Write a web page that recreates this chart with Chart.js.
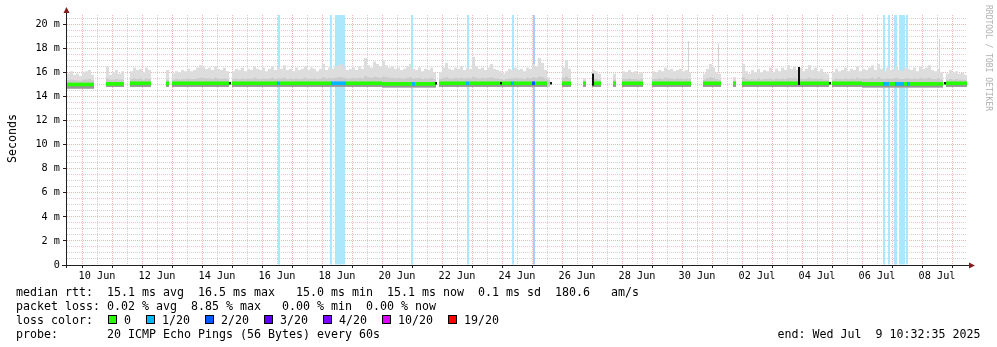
<!DOCTYPE html>
<html>
<head>
<meta charset="utf-8">
<script src="https://cdn.jsdelivr.net/npm/chart.js@4.4.1/dist/chart.umd.min.js"></script>
<style>
  body { margin: 0; background: #fff; }
  #wrap { position: relative; width: 997px; height: 347px; overflow: hidden; font-family: "DejaVu Sans Mono", monospace; }
  #chart { position: absolute; left: 0; top: 0; }
  .row { position: absolute; left: 16px; font-size: 11.63px; line-height: 14px; white-space: pre; color: #000; }
  .box { display: inline-block; width: 7px; height: 7px; border: 1px solid #000; margin: 0 7px 0 1px; vertical-align: top; position: relative; top: 2.5px; }
  #ylab { position: absolute; left: 0; top: 0; font-size: 11.63px; line-height: 14px; white-space: pre; transform-origin: 0 0; transform: translate(5px, 163px) rotate(-90deg); }
  #wm { position: absolute; left: 0; top: 0; font-size: 8px; line-height: 10px; white-space: pre; color: #b0b0b0; transform-origin: 0 0; transform: translate(993px, 5px) rotate(90deg); }
</style>
</head>
<body>
<div id="wrap">
  <canvas id="chart" width="997" height="347"></canvas>
  <div id="ylab">Seconds</div>
  <div id="wm">RRDTOOL / TOBI OETIKER</div>
  <div class="row" style="top:284.5px">median rtt:  15.1 ms avg  16.5 ms max   15.0 ms min  15.1 ms now  0.1 ms sd  180.6   am/s</div>
  <div class="row" style="top:298.5px">packet loss: 0.02 % avg  8.85 % max   0.00 % min  0.00 % now</div>
  <div class="row" id="lossrow" style="top:312.5px">loss color:  </div>
  <div class="row" style="top:326.5px">probe:       20 ICMP Echo Pings (56 Bytes) every 60s</div>
  <div class="row" style="top:326.5px; left:777.5px">end: Wed Jul  9 10:32:35 2025</div>
</div>
<script>
// time axis in days since 1 Jun 00:00, one bin = 0.1 day
var BIN0 = 8.5;
var BINW = 0.1;
var Y_MAX = 20.77;

var xTickDays = [9.5, 11.5, 13.5, 15.5, 17.5, 19.5, 21.5, 23.5, 25.5, 27.5, 29.5, 31.5, 33.5, 35.5, 37.5];
var xTickLabels = ['10 Jun', '12 Jun', '14 Jun', '16 Jun', '18 Jun', '20 Jun', '22 Jun', '24 Jun',
                   '26 Jun', '28 Jun', '30 Jun', '02 Jul', '04 Jul', '06 Jul', '08 Jul'];

// top of the smoke per bin (ms)
var smokeTop = [
  15.9, 16.1, 15.8, 15.9, 15.7, 16.0, 16.1, 16.2, 15.8,            // 0-8
  null, null, null, null,                                            // 9-12
  16.5, 15.8, 16.0, 16.2, 15.9, 16.1,                                // 13-18
  null, null,                                                        // 19-20
  16.1, 16.4, 16.2, 16.3, 16.0, 16.4, 16.2,                          // 21-27
  null, null, null, null, null,                                      // 28-32
  16.2, null,                                                        // 33-34
  15.9, 16.1, 16.0, 16.2, 16.1, 16.3, 16.1, 16.2, 16.4, 16.6,        // 35-44
  16.5, 16.3, 16.4, 16.2, 16.5, 16.3, 16.2, 16.4, 16.1,              // 45-53
  null,                                                              // 54
  16.1, 16.3, 16.2, 16.4, 16.1, 16.3, 16.2, 16.5, 16.3, 16.2,        // 55-64
  16.4, 16.1, 16.3, 16.5, 16.2, 16.4, 16.3, 16.6, 16.2, 16.3,        // 65-74
  16.1, 16.4, 16.2, 16.3, 16.5, 16.2, 16.4, 16.3, 16.1, 16.3,        // 75-84
  16.7, 16.2, 16.4, 16.3, 16.5, 16.6, 16.7, 16.4, 16.2, 16.3,        // 85-94
  16.4, 16.2, 16.5, 16.3, 17.2, 16.6, 16.4, 16.9, 16.7, 16.5,        // 95-104
  17.0, 16.6, 16.4, 16.5, 16.3, 16.4, 16.2, 16.3, 16.5, 16.7,        // 105-114
  16.3, 16.2, 16.4, 16.1, 16.3, 16.2, 16.4, 16.0,                    // 115-122
  null, 16.0,                                                        // 123-124
  16.4, 16.8, 16.3, 16.2, 16.4, 16.3, 16.5, 16.2, 16.4, 16.3,        // 125-134
  17.3, 16.5, 16.3, 16.4, 16.2, 16.4, 16.7, 16.3, 16.2, 16.1,        // 135-144
  15.9, 16.1, 16.3, 16.2, 16.4, 16.2, 16.3, 16.1, 16.4, 16.3,        // 145-154
  16.7, 16.5, 17.2, 16.8, 16.2, 15.6,                                // 155-160
  null, null, null, null,                                            // 161-164
  16.4, 17.0, 16.3,                                                  // 165-167
  null, null, null, null,                                            // 168-171
  15.5, null, null,                                                  // 172-174
  16.2, 16.1, 15.9,                                                  // 175-177
  null, null, null, null,                                            // 178-181
  15.9, null, null,                                                  // 182-184
  16.1, 16.0, 16.2, 16.0, 16.1, 15.9, 16.0,                          // 185-191
  null, null, null,                                                  // 192-194
  16.1, 16.0, 16.2, 16.1, 16.4, 16.2, 16.3, 16.1, 16.2, 16.3,        // 195-204
  16.1, 16.2, 16.0,                                                  // 205-207
  null, null, null, null,                                            // 208-211
  15.9, 16.3, 16.7, 16.4, 16.0, 15.9,                                // 212-217
  null, null, null, null,                                            // 218-221
  15.6, null, null,                                                  // 222-224
  16.7, 16.1, 15.9, 16.2, 16.0, 16.3, 16.0, 16.2, 16.1, 16.4,        // 225-234
  16.0, 16.3, 16.1, 16.4, 16.2, 16.6, 16.3, 16.5, 16.2, 16.4,        // 235-244
  16.1, 16.3, 16.6, 16.2, 16.4, 16.1, 16.3, 16.0, 15.9,              // 245-253
  null,                                                              // 254
  16.0, 16.3, 16.1, 16.2, 16.4, 16.1, 16.3, 16.2, 16.5, 16.1,        // 255-264
  16.3, 16.2, 16.4, 16.6, 16.2, 16.7, 16.3, 16.1, 16.4, 16.2,        // 265-274
  16.3, 16.5, 16.2, 16.1, 16.4, 16.3, 16.2, 16.4, 16.1, 16.5,        // 275-284
  16.3, 16.4, 16.6, 16.2, 16.1, 16.3, 16.0,                          // 285-291
  null,                                                              // 292
  15.9, 16.2, 16.0, 16.1, 15.9, 16.0, 15.8                           // 293-299
];

// upper edge of the denser smoke just above the median (ms)
var smokeMid = [
  15.35, 15.4, 15.35, 15.35, 15.3, 15.4, 15.4, 15.45, 15.35,
  null, null, null, null,
  15.5, 15.4, 15.4, 15.45, 15.4, 15.4,
  null, null,
  15.45, 15.5, 15.45, 15.5, 15.4, 15.5, 15.45,
  null, null, null, null, null,
  15.4, null,
  15.4, 15.45, 15.4, 15.45, 15.45, 15.5, 15.45, 15.45, 15.5, 15.55,
  15.55, 15.5, 15.5, 15.45, 15.55, 15.5, 15.45, 15.5, 15.45,
  null,
  15.45, 15.5, 15.45, 15.5, 15.45, 15.5, 15.45, 15.55, 15.5, 15.45,
  15.5, 15.45, 15.5, 15.55, 15.45, 15.5, 15.5, 15.55, 15.45, 15.5,
  15.45, 15.5, 15.45, 15.5, 15.55, 15.45, 15.5, 15.5, 15.45, 15.5,
  15.6, 15.5, 15.55, 15.5, 15.55, 15.6, 15.6, 15.55, 15.5, 15.5,
  15.55, 15.5, 15.55, 15.5, 15.7, 15.6, 15.55, 15.65, 15.6, 15.55,
  15.65, 15.6, 15.55, 15.55, 15.5, 15.55, 15.5, 15.5, 15.55, 15.6,
  15.5, 15.5, 15.55, 15.45, 15.5, 15.5, 15.55, 15.45,
  null, 15.45,
  15.55, 15.6, 15.5, 15.5, 15.55, 15.5, 15.55, 15.5, 15.55, 15.5,
  15.65, 15.55, 15.5, 15.55, 15.5, 15.55, 15.6, 15.5, 15.5, 15.45,
  15.4, 15.45, 15.5, 15.5, 15.55, 15.5, 15.5, 15.45, 15.55, 15.5,
  15.6, 15.55, 15.65, 15.6, 15.5, 15.35,
  null, null, null, null,
  15.55, 15.65, 15.5,
  null, null, null, null,
  15.3, null, null,
  15.5, 15.45, 15.4,
  null, null, null, null,
  15.4, null, null,
  15.45, 15.45, 15.5, 15.45, 15.45, 15.4, 15.45,
  null, null, null,
  15.45, 15.45, 15.5, 15.45, 15.55, 15.5, 15.5, 15.45, 15.5, 15.5,
  15.45, 15.5, 15.45,
  null, null, null, null,
  15.4, 15.5, 15.6, 15.55, 15.45, 15.4,
  null, null, null, null,
  15.3, null, null,
  15.6, 15.45, 15.4, 15.45, 15.4, 15.5, 15.4, 15.45, 15.45, 15.5,
  15.4, 15.5, 15.45, 15.5, 15.45, 15.55, 15.5, 15.55, 15.45, 15.5,
  15.45, 15.5, 15.55, 15.45, 15.5, 15.45, 15.5, 15.4, 15.4,
  null,
  15.4, 15.5, 15.45, 15.45, 15.5, 15.45, 15.5, 15.45, 15.55, 15.45,
  15.5, 15.45, 15.5, 15.55, 15.45, 15.6, 15.5, 15.45, 15.5, 15.45,
  15.5, 15.55, 15.45, 15.45, 15.5, 15.5, 15.45, 15.5, 15.45, 15.55,
  15.5, 15.5, 15.55, 15.45, 15.45, 15.5, 15.4,
  null,
  15.4, 15.45, 15.4, 15.45, 15.4, 15.4, 15.35
];

// median rtt per bin (ms)
var medianRtt = [
  15.0, 15.0, 15.0, 15.0, 15.0, 15.0, 15.0, 15.0, 15.0,
  null, null, null, null,
  15.05, 15.05, 15.05, 15.05, 15.05, 15.05,
  null, null,
  15.1, 15.1, 15.1, 15.1, 15.1, 15.1, 15.1,
  null, null, null, null, null,
  15.1, null,
  15.1, 15.1, 15.1, 15.1, 15.1, 15.1, 15.1, 15.1, 15.1, 15.1,
  15.1, 15.1, 15.1, 15.1, 15.1, 15.1, 15.1, 15.1, 15.1,
  null,
  15.1, 15.1, 15.1, 15.1, 15.1, 15.1, 15.1, 15.1, 15.1, 15.1,
  15.1, 15.1, 15.1, 15.1, 15.1, 15.1, 15.1, 15.1, 15.1, 15.1,
  15.1, 15.1, 15.1, 15.1, 15.1, 15.1, 15.1, 15.1, 15.1, 15.1,
  15.1, 15.1, 15.1, 15.1, 15.1, 15.1, 15.1, 15.1, 15.1, 15.1,
  15.1, 15.1, 15.1, 15.1, 15.1, 15.1, 15.1, 15.1, 15.1, 15.1,
  15.05, 15.05, 15.05, 15.05, 15.05, 15.05, 15.05, 15.05, 15.05, 15.05,
  15.05, 15.05, 15.05, 15.05, 15.05, 15.05, 15.05, 15.05,
  null, 15.1,
  15.1, 15.1, 15.1, 15.1, 15.1, 15.1, 15.1, 15.1, 15.1, 15.1,
  15.1, 15.1, 15.1, 15.1, 15.1, 15.1, 15.1, 15.1, 15.1, 15.1,
  15.1, 15.1, 15.1, 15.1, 15.1, 15.1, 15.1, 15.1, 15.1, 15.1,
  15.1, 15.1, 15.1, 15.1, 15.1, null,
  null, null, null, null,
  15.1, 15.1, 15.1,
  null, null, null, null,
  15.1, null, null,
  15.1, 15.1, 15.1,
  null, null, null, null,
  15.1, null, null,
  15.1, 15.1, 15.1, 15.1, 15.1, 15.1, 15.1,
  null, null, null,
  15.1, 15.1, 15.1, 15.1, 15.1, 15.1, 15.1, 15.1, 15.1, 15.1,
  15.1, 15.1, 15.1,
  null, null, null, null,
  15.1, 15.1, 15.1, 15.1, 15.1, 15.1,
  null, null, null, null,
  15.1, null, null,
  15.1, 15.1, 15.1, 15.1, 15.1, 15.1, 15.1, 15.1, 15.1, 15.1,
  15.1, 15.1, 15.1, 15.1, 15.1, 15.1, 15.1, 15.1, 15.1, 15.1,
  15.1, 15.1, 15.1, 15.1, 15.1, 15.1, 15.1, 15.1, 15.1,
  null,
  15.1, 15.1, 15.1, 15.1, 15.1, 15.1, 15.1, 15.1, 15.1, 15.1,
  15.05, 15.05, 15.05, 15.05, 15.05, 15.05, 15.05, 15.05, 15.05, 15.05,
  15.05, 15.05, 15.05, 15.05, 15.05, 15.05, 15.05, 15.05, 15.05, 15.05,
  15.05, 15.05, 15.05, 15.05, 15.05, 15.05, 15.05,
  null,
  15.1, 15.1, 15.1, 15.1, 15.1, 15.1, 15.1
];

// lowest pings per bin (ms)
var smokeLow = [
  14.65, 14.65, 14.65, 14.65, 14.65, 14.65, 14.65, 14.65, 14.65,
  null, null, null, null,
  14.8, 14.8, 14.8, 14.8, 14.8, 14.8,
  null, null,
  14.8, 14.8, 14.8, 14.8, 14.8, 14.8, 14.8,
  null, null, null, null, null,
  14.8, null,
  14.8, 14.8, 14.8, 14.8, 14.8, 14.8, 14.8, 14.8, 14.8, 14.8,
  14.8, 14.8, 14.8, 14.8, 14.8, 14.8, 14.8, 14.8, 14.8,
  null,
  14.8, 14.8, 14.8, 14.8, 14.8, 14.8, 14.8, 14.8, 14.8, 14.8,
  14.8, 14.8, 14.8, 14.8, 14.8, 14.8, 14.8, 14.8, 14.8, 14.8,
  14.8, 14.8, 14.8, 14.8, 14.8, 14.8, 14.8, 14.8, 14.8, 14.8,
  14.8, 14.8, 14.8, 14.8, 14.8, 14.8, 14.8, 14.8, 14.8, 14.8,
  14.8, 14.8, 14.8, 14.8, 14.8, 14.8, 14.8, 14.8, 14.8, 14.8,
  14.75, 14.75, 14.75, 14.75, 14.75, 14.75, 14.75, 14.75, 14.75, 14.75,
  14.75, 14.75, 14.75, 14.75, 14.75, 14.75, 14.75, 14.75,
  null, 14.8,
  14.8, 14.8, 14.8, 14.8, 14.8, 14.8, 14.8, 14.8, 14.8, 14.8,
  14.8, 14.8, 14.8, 14.8, 14.8, 14.8, 14.8, 14.8, 14.8, 14.8,
  14.8, 14.8, 14.8, 14.8, 14.8, 14.8, 14.8, 14.8, 14.8, 14.8,
  14.8, 14.8, 14.8, 14.8, 14.8, 14.8,
  null, null, null, null,
  14.8, 14.8, 14.8,
  null, null, null, null,
  14.8, null, null,
  14.8, 14.8, 14.8,
  null, null, null, null,
  14.8, null, null,
  14.8, 14.8, 14.8, 14.8, 14.8, 14.8, 14.8,
  null, null, null,
  14.8, 14.8, 14.8, 14.8, 14.8, 14.8, 14.8, 14.8, 14.8, 14.8,
  14.8, 14.8, 14.8,
  null, null, null, null,
  14.8, 14.8, 14.8, 14.8, 14.8, 14.8,
  null, null, null, null,
  14.8, null, null,
  14.8, 14.8, 14.8, 14.8, 14.8, 14.8, 14.8, 14.8, 14.8, 14.8,
  14.8, 14.8, 14.8, 14.8, 14.8, 14.8, 14.8, 14.8, 14.8, 14.8,
  14.8, 14.8, 14.8, 14.8, 14.8, 14.8, 14.8, 14.8, 14.8,
  null,
  14.8, 14.8, 14.8, 14.8, 14.8, 14.8, 14.8, 14.8, 14.8, 14.8,
  14.75, 14.75, 14.75, 14.75, 14.75, 14.75, 14.75, 14.75, 14.75, 14.75,
  14.75, 14.75, 14.75, 14.75, 14.75, 14.75, 14.75, 14.75, 14.75, 14.75,
  14.75, 14.75, 14.75, 14.75, 14.75, 14.75, 14.75,
  null,
  14.8, 14.8, 14.8, 14.8, 14.8, 14.8, 14.8
];

// samples with packet loss (day, loss level: 1 = 1/20, 2 = 2/20)
var lossDays = [15.567, 17.3, 17.467, 17.533, 17.6, 17.667, 17.733, 20.0, 21.867, 23.367, 24.067,
                35.733, 35.9, 36.1, 36.133, 36.267, 36.333, 36.4, 36.5];
var lossLevel = [1, 1, 1, 1, 1, 1, 1, 1, 1, 1, 2,
                 1, 1, 1, 1, 1, 1, 1, 1];

// single tall ping outliers
var spikeDays = [29.217, 30.217, 37.583];
var spikeTop = [18.6, 18.4, 18.8];

// dark median marks of very short data runs
var darkDays = [13.933, 20.8, 22.967, 24.633, 26.033, 32.9, 33.933, 37.767];
var darkLo = [15.0, 15.0, 15.0, 15.0, 14.9, 14.95, 15.0, 15.0];
var darkHi = [15.2, 15.2, 15.2, 15.2, 15.9, 16.45, 15.2, 15.2];

var lossLabels = ['0', '1/20', '2/20', '3/20', '4/20', '10/20', '19/20'];
var lossColors = ['#26ff00', '#00b8ff', '#0059ff', '#5e00ff', '#7e00ff', '#dd00ff', '#ff0000'];
var lossBgColors = ['#ffffff', '#abe8fc', '#abccff'];

// legend row of loss colours
var row = document.getElementById('lossrow');
lossLabels.forEach(function (lab, k) {
  var b = document.createElement('span');
  b.className = 'box';
  b.style.background = lossColors[k];
  row.appendChild(b);
  row.appendChild(document.createTextNode(lab + (k < lossLabels.length - 1 ? '  ' : '')));
});

function binX(i) { return BIN0 + BINW * (i + 0.5); }

function binLoss(i) {
  var lvl = 0;
  lossDays.forEach(function (d, k) {
    if (Math.floor((d - BIN0) / BINW) === i) lvl = Math.max(lvl, lossLevel[k]);
  });
  return lvl;
}

var outerData = [], midData = [], darkBandData = [], medianData = [], medianCols = [];
smokeTop.forEach(function (t, i) {
  if (t !== null) outerData.push({ x: binX(i), y: [smokeLow[i], t] });
  if (smokeMid[i] !== null) midData.push({ x: binX(i), y: [smokeLow[i], smokeMid[i]] });
  if (medianRtt[i] !== null) {
    darkBandData.push({ x: binX(i), y: [smokeLow[i], medianRtt[i]] });
    medianData.push({ x: binX(i), y: [medianRtt[i] - 0.15, medianRtt[i] + 0.15] });
    medianCols.push(lossColors[binLoss(i)]);
  }
});

var lossData = lossDays.map(function (d) { return { x: d, y: [0, Y_MAX] }; });
var lossCols = lossLevel.map(function (l) { return lossBgColors[l]; });
var spikeData = spikeDays.map(function (d, k) { return { x: d, y: [16.0, spikeTop[k]] }; });
var darkData = darkDays.map(function (d, k) { return { x: d, y: [darkLo[k], darkHi[k]] }; });

var gridDays = [];
for (var g = 9; g <= 38; g += 0.5) gridDays.push(g);

var FONT = 'DejaVu Sans Mono';
var MGRID = 'rgba(222,79,79,0.42)';
var GRID = 'rgba(143,143,143,0.38)';

var rrdAxes = {
  id: 'rrdAxes',
  afterDatasetsDraw: function (chart) {
    var ctx = chart.ctx, a = chart.chartArea;
    ctx.save();
    ctx.strokeStyle = '#1f1f1f';
    ctx.lineWidth = 1;
    ctx.beginPath();
    ctx.moveTo(a.left - 5, a.bottom + 0.5);
    ctx.lineTo(a.right + 3, a.bottom + 0.5);
    ctx.moveTo(a.left - 0.5, a.bottom + 3);
    ctx.lineTo(a.left - 0.5, a.top - 3);
    ctx.stroke();
    ctx.fillStyle = '#801f1f';
    ctx.beginPath();
    ctx.moveTo(a.right + 8, a.bottom + 0.5);
    ctx.lineTo(a.right + 2, a.bottom - 2.5);
    ctx.lineTo(a.right + 2, a.bottom + 3.5);
    ctx.closePath();
    ctx.fill();
    ctx.beginPath();
    ctx.moveTo(a.left - 0.5, a.top - 8);
    ctx.lineTo(a.left - 3.5, a.top - 2);
    ctx.lineTo(a.left + 2.5, a.top - 2);
    ctx.closePath();
    ctx.fill();
    ctx.restore();
  }
};

var barBase = { type: 'bar', grouped: false, borderWidth: 0, inflateAmount: 0, borderRadius: 0 };

new Chart(document.getElementById('chart'), {
  type: 'bar',
  data: {
    datasets: [
      Object.assign({}, barBase, { label: 'loss', data: lossData, backgroundColor: lossCols, barThickness: 2, order: 10 }),
      Object.assign({}, barBase, { label: 'smoke', data: outerData, backgroundColor: '#dddddd', barThickness: 3, order: 9 }),
      Object.assign({}, barBase, { label: 'spikes', data: spikeData, backgroundColor: '#d4d4d4', barThickness: 1, order: 8 }),
      Object.assign({}, barBase, { label: 'mid', data: midData, backgroundColor: '#cbcbcb', barThickness: 3, order: 7 }),
      Object.assign({}, barBase, { label: 'low', data: darkBandData, backgroundColor: '#979797', barThickness: 3, order: 6 }),
      Object.assign({}, barBase, { label: 'median', data: medianData, backgroundColor: medianCols, barThickness: 3, order: 5 }),
      Object.assign({}, barBase, { label: 'dark', data: darkData, backgroundColor: '#111111', barThickness: 2, order: 4 })
    ]
  },
  options: {
    responsive: false,
    animation: false,
    devicePixelRatio: 1,
    layout: { padding: { left: 0, right: 30, top: 15, bottom: 0 } },
    plugins: { legend: { display: false }, tooltip: { enabled: false } },
    scales: {
      x: {
        type: 'linear',
        min: 8.5,
        max: 38.5,
        offset: false,
        afterBuildTicks: function (s) { s.ticks = gridDays.map(function (v) { return { value: v }; }); },
        afterFit: function (s) { s.height = 82; s.paddingLeft = 0; s.paddingRight = 0; },
        grid: {
          offset: false,
          lineWidth: 1,
          color: function (c) {
            var v = c.tick ? c.tick.value : 0;
            return Math.abs(v - Math.round(v)) < 1e-6 ? MGRID : GRID;
          },
          tickLength: 3,
          tickColor: function (c) {
            var v = c.tick ? c.tick.value : 0;
            return Math.abs(v - Math.round(v)) < 1e-6 ? '#1f1f1f' : 'rgba(0,0,0,0)';
          }
        },
        border: { display: false, dash: [1, 1] },
        ticks: {
          autoSkip: false,
          maxRotation: 0,
          minRotation: 0,
          padding: 2,
          color: '#000',
          font: { family: FONT, size: 10.2 },
          callback: function (v) {
            for (var k = 0; k < xTickDays.length; k++) {
              if (Math.abs(xTickDays[k] - v) < 1e-6) return xTickLabels[k];
            }
            return '';
          }
        }
      },
      y: {
        min: 0,
        max: Y_MAX,
        afterFit: function (s) { s.width = 67; },
        grid: {
          lineWidth: 1,
          color: function (c) {
            var v = c.tick ? c.tick.value : 0;
            return Math.abs(v / 2 - Math.round(v / 2)) < 1e-6 ? MGRID : GRID;
          },
          tickLength: 4,
          tickColor: function (c) {
            var v = c.tick ? c.tick.value : 0;
            return Math.abs(v / 2 - Math.round(v / 2)) < 1e-6 ? '#1f1f1f' : 'rgba(0,0,0,0)';
          }
        },
        border: { display: false, dash: [1, 1] },
        ticks: {
          stepSize: 0.5,
          includeBounds: false,
          autoSkip: false,
          padding: 3,
          color: '#000',
          font: { family: FONT, size: 10.2 },
          callback: function (v) {
            if (Math.abs(v / 2 - Math.round(v / 2)) > 1e-6) return '';
            return v === 0 ? '0' : v + ' m';
          }
        }
      }
    }
  },
  plugins: [rrdAxes]
});
</script>
</body>
</html>
